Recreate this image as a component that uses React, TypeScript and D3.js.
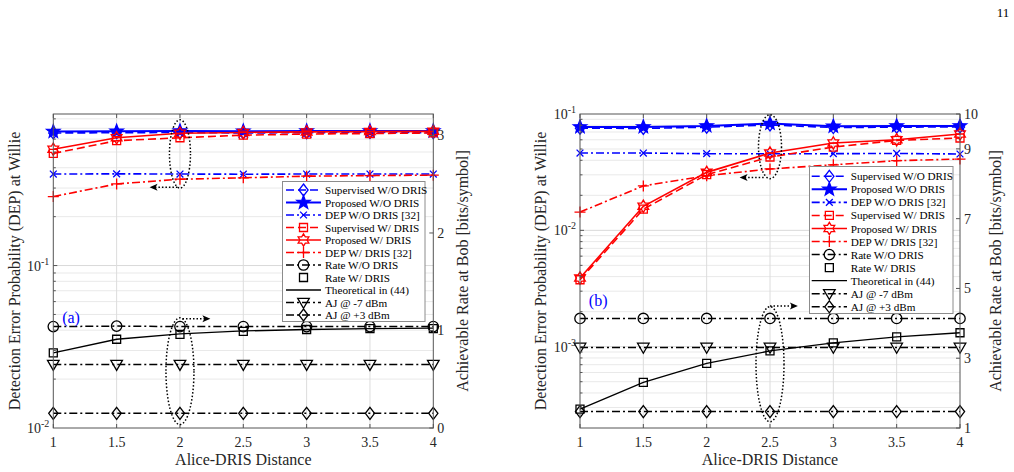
import React, { useEffect, useRef } from 'react';
import * as d3 from 'd3';

const W = 1014;
const H = 472;
const TOP = 114;
const BOTTOM = 428;
const FONT = "'Liberation Serif', 'Times New Roman', serif";

// x axis
const distances = [1, 1.5, 2, 2.5, 3, 3.5, 4];
const xTicks = [1, 1.5, 2, 2.5, 3, 3.5, 4];

// panel (a) - DEP (left, log)
const aSupervisedWO = [0.655, 0.657, 0.66, 0.655, 0.658, 0.66, 0.658];
const aProposedWO = [0.668, 0.67, 0.673, 0.672, 0.673, 0.674, 0.674];
const aDepWO = [0.366, 0.367, 0.366, 0.365, 0.366, 0.366, 0.366];
const aSupervisedW = [0.49, 0.587, 0.612, 0.635, 0.645, 0.65, 0.655];
const aProposedW = [0.52, 0.612, 0.652, 0.66, 0.665, 0.668, 0.67];
const aDepW = [0.266, 0.318, 0.34, 0.347, 0.355, 0.358, 0.36];
// panel (a) - rate (right)
const aRateWO = [1.04, 1.045, 1.04, 1.04, 1.04, 1.04, 1.04];
const aRateW = [0.77, 0.91, 0.96, 0.99, 1.01, 1.02, 1.02];
const aTheory = [0.77, 0.91, 0.965, 0.995, 1.01, 1.02, 1.025];
const aAjM7 = [0.65, 0.65, 0.65, 0.65, 0.65, 0.65, 0.65];
const aAjP3 = [0.15, 0.15, 0.15, 0.15, 0.15, 0.15, 0.15];

// panel (b) - DEP (left, log)
const bSupervisedWO = [0.0755, 0.0752, 0.077, 0.0805, 0.0765, 0.077, 0.0775];
const bProposedWO = [0.0775, 0.0775, 0.079, 0.083, 0.0785, 0.079, 0.079];
const bDepWO = [0.0462, 0.0462, 0.0456, 0.0455, 0.0456, 0.0458, 0.0453];
const bSupervisedW = [0.00376, 0.0152, 0.0301, 0.0427, 0.052, 0.0593, 0.0622];
const bProposedW = [0.00389, 0.0161, 0.0315, 0.0462, 0.0564, 0.0601, 0.0673];
const bDepW = [0.01435, 0.0241, 0.0295, 0.0337, 0.0366, 0.0397, 0.041];
// panel (b) - rate (right)
const bRateWO = [4.14, 4.14, 4.14, 4.14, 4.14, 4.14, 4.14];
const bRateW = [1.54, 2.31, 2.85, 3.21, 3.44, 3.61, 3.73];
const bTheory = [1.54, 2.31, 2.85, 3.21, 3.44, 3.61, 3.73];
const bAjM7 = [3.31, 3.31, 3.31, 3.31, 3.31, 3.31, 3.31];
const bAjP3 = [1.47, 1.47, 1.47, 1.47, 1.47, 1.47, 1.47];

const legendNames = [
  'Supervised W/O DRIS',
  'Proposed W/O DRIS',
  'DEP W/O DRIS [32]',
  'Supervised W/ DRIS',
  'Proposed W/ DRIS',
  'DEP W/ DRIS [32]',
  'Rate W/O DRIS',
  'Rate W/ DRIS',
  'Theoretical in (44)',
  'AJ @ -7 dBm',
  'AJ @ +3 dBm',
];

type Marker = 'diamond' | 'pentagram' | 'x' | 'square' | 'hexagram' | 'plus' | 'circle' | 'triangleDown' | 'none';

interface Style {
  color: string;
  dash: string | null | 'none'; // null = solid, 'none' = no line
  marker: Marker;
  width: number;
  filled?: boolean;
}

const BLUE = '#0000ff';
const RED = '#ff0000';
const BLACK = '#000000';
const DASH = '8,4';
const DASHDOT = '8,3,2,3';

// one style per legend entry
const styles: Style[] = [
  { color: BLUE, dash: DASH, marker: 'diamond', width: 1.6 },
  { color: BLUE, dash: null, marker: 'pentagram', width: 2, filled: true },
  { color: BLUE, dash: DASHDOT, marker: 'x', width: 1.6 },
  { color: RED, dash: DASH, marker: 'square', width: 1.6 },
  { color: RED, dash: null, marker: 'hexagram', width: 1.6 },
  { color: RED, dash: DASHDOT, marker: 'plus', width: 1.6 },
  { color: BLACK, dash: DASHDOT, marker: 'circle', width: 1.5 },
  { color: BLACK, dash: 'none', marker: 'square', width: 1.2 },
  { color: BLACK, dash: null, marker: 'none', width: 1.3 },
  { color: BLACK, dash: DASHDOT, marker: 'triangleDown', width: 1.5 },
  { color: BLACK, dash: DASHDOT, marker: 'diamond', width: 1.5 },
];

interface PanelSpec {
  x0: number;
  x1: number;
  leftDomain: [number, number];
  rightDomain: [number, number];
  rightTicks: number[];
  series: { values: number[]; axis: 'left' | 'right'; style: number }[];
  legend: { x: number; y: number; w: number; h: number; row0: number; gap: number; lineX0: number; lineX1: number; textX: number };
  tag: string;
  tagAt: [number, number];
  ellipses: { x: number; from: number; to: number; axis: 'left' | 'right'; rx: number }[];
  arrows: { from: number; to: number; v: number; axis: 'left' | 'right' }[];
  yLabelX: number;
  rLabelX: number;
}

const panels: PanelSpec[] = [
  {
    x0: 53.3,
    x1: 433.3,
    leftDomain: [0.01, 0.857],
    rightDomain: [0, 3.22],
    rightTicks: [0, 1, 2, 3],
    series: [
      { values: aSupervisedWO, axis: 'left', style: 0 },
      { values: aProposedWO, axis: 'left', style: 1 },
      { values: aDepWO, axis: 'left', style: 2 },
      { values: aSupervisedW, axis: 'left', style: 3 },
      { values: aProposedW, axis: 'left', style: 4 },
      { values: aDepW, axis: 'left', style: 5 },
      { values: aRateWO, axis: 'right', style: 6 },
      { values: aTheory, axis: 'right', style: 8 },
      { values: aRateW, axis: 'right', style: 7 },
      { values: aAjM7, axis: 'right', style: 9 },
      { values: aAjP3, axis: 'right', style: 10 },
    ],
    legend: { x: 282.5, y: 181.5, w: 142.5, h: 140, row0: 190, gap: 12.5, lineX0: 286, lineX1: 321, textX: 325 },
    tag: '(a)',
    tagAt: [1.07, 1.08],
    ellipses: [
      { x: 2, from: 0.3, to: 0.79, axis: 'left', rx: 10.5 },
      { x: 2, from: 0.035, to: 1.13, axis: 'right', rx: 14 },
    ],
    arrows: [
      { from: 1.98, to: 1.76, v: 0.303, axis: 'left' },
      { from: 2.02, to: 2.24, v: 1.12, axis: 'right' },
    ],
    yLabelX: 14,
    rLabelX: 462,
  },
  {
    x0: 580,
    x1: 960,
    leftDomain: [0.0002, 0.1],
    rightDomain: [1, 10],
    rightTicks: [1, 3, 5, 7, 9, 10],
    series: [
      { values: bSupervisedWO, axis: 'left', style: 0 },
      { values: bProposedWO, axis: 'left', style: 1 },
      { values: bDepWO, axis: 'left', style: 2 },
      { values: bSupervisedW, axis: 'left', style: 3 },
      { values: bProposedW, axis: 'left', style: 4 },
      { values: bDepW, axis: 'left', style: 5 },
      { values: bRateWO, axis: 'right', style: 6 },
      { values: bTheory, axis: 'right', style: 8 },
      { values: bRateW, axis: 'right', style: 7 },
      { values: bAjM7, axis: 'right', style: 9 },
      { values: bAjP3, axis: 'right', style: 10 },
    ],
    legend: { x: 809.5, y: 166.5, w: 143.5, h: 147, row0: 176.3, gap: 13.05, lineX0: 811.7, lineX1: 847, textX: 850.7 },
    tag: '(b)',
    tagAt: [1.07, 4.5],
    ellipses: [
      { x: 2.5, from: 0.0278, to: 0.0986, axis: 'left', rx: 11.5 },
      { x: 2.5, from: 1.18, to: 4.48, axis: 'right', rx: 14 },
    ],
    arrows: [
      { from: 2.45, to: 2.26, v: 0.0285, axis: 'left' },
      { from: 2.5, to: 2.72, v: 4.5, axis: 'right' },
    ],
    yLabelX: 540,
    rLabelX: 995,
  },
];

function starPath(n: number, outer: number, inner: number): string {
  const pts: [number, number][] = [];
  for (let i = 0; i < n * 2; i++) {
    const r = i % 2 === 0 ? outer : inner;
    const a = -Math.PI / 2 + (i * Math.PI) / n;
    pts.push([r * Math.cos(a), r * Math.sin(a)]);
  }
  return 'M' + pts.map(p => `${p[0].toFixed(2)},${p[1].toFixed(2)}`).join('L') + 'Z';
}

function markerPath(m: Marker): string {
  switch (m) {
    case 'diamond': return 'M0,-6L4.6,0L0,6L-4.6,0Z';
    case 'square': return 'M-4,-4H4V4H-4Z';
    case 'circle': return 'M5.2,0A5.2,5.2 0 1,1 -5.2,0A5.2,5.2 0 1,1 5.2,0Z';
    case 'triangleDown': return 'M-5.8,-4.2L5.8,-4.2L0,5.8Z';
    case 'x': return 'M-3.4,-3.4L3.4,3.4M-3.4,3.4L3.4,-3.4';
    case 'plus': return 'M-5.5,0H5.5M0,-5.5V5.5';
    case 'pentagram': return starPath(5, 7, 2.9);
    case 'hexagram': return starPath(6, 6.2, 3.6);
    default: return '';
  }
}

function drawMarker(g: d3.Selection<SVGGElement, unknown, null, undefined>, s: Style, cx: number, cy: number) {
  if (s.marker === 'none') return;
  g.append('path')
    .attr('d', markerPath(s.marker))
    .attr('transform', `translate(${cx},${cy})`)
    .attr('fill', s.filled ? s.color : 'none')
    .attr('stroke', s.color)
    .attr('stroke-width', 1.3);
}

function drawPanel(svg: d3.Selection<SVGSVGElement, unknown, null, undefined>, p: PanelSpec) {
  const x = d3.scaleLinear().domain([1, 4]).range([p.x0, p.x1]);
  const yL = d3.scaleLog().domain(p.leftDomain).range([BOTTOM, TOP]);
  const yR = d3.scaleLinear().domain(p.rightDomain).range([BOTTOM, TOP]);
  const yOf = (axis: 'left' | 'right') => (axis === 'left' ? yL : yR);

  const g = svg.append('g');

  // log grid (left axis)
  const [lo, hi] = p.leftDomain;
  const logVals: { v: number; major: boolean }[] = [];
  for (let e = Math.floor(Math.log10(lo)); e <= Math.ceil(Math.log10(hi)); e++) {
    for (let m = 1; m < 10; m++) {
      const v = m * Math.pow(10, e);
      if (v > lo * 1.001 && v < hi * 0.999) logVals.push({ v, major: m === 1 });
    }
  }
  g.selectAll('.hgrid')
    .data(logVals)
    .enter().append('line')
    .attr('x1', p.x0).attr('x2', p.x1)
    .attr('y1', d => yL(d.v)).attr('y2', d => yL(d.v))
    .attr('stroke', d => (d.major ? '#d9d9d9' : '#e9e9e9'))
    .attr('stroke-width', 1);
  g.selectAll('.vgrid')
    .data(xTicks.slice(1, -1))
    .enter().append('line')
    .attr('x1', d => x(d)).attr('x2', d => x(d))
    .attr('y1', TOP).attr('y2', BOTTOM)
    .attr('stroke', '#dcdcdc')
    .attr('stroke-width', 1);

  // series lines
  p.series.forEach(sr => {
    const s = styles[sr.style];
    const y = yOf(sr.axis);
    if (s.dash !== 'none') {
      const line = d3.line<number>().x((_, i) => x(distances[i])).y(v => y(v));
      g.append('path')
        .attr('d', line(sr.values))
        .attr('fill', 'none')
        .attr('stroke', s.color)
        .attr('stroke-width', s.width)
        .attr('stroke-dasharray', s.dash ?? null);
    }
    sr.values.forEach((v, i) => drawMarker(g, s, x(distances[i]), y(v)));
  });

  // axes box
  g.append('rect')
    .attr('x', p.x0).attr('y', TOP)
    .attr('width', p.x1 - p.x0).attr('height', BOTTOM - TOP)
    .attr('fill', 'none').attr('stroke', '#555').attr('stroke-width', 1);

  // x ticks
  xTicks.forEach(t => {
    g.append('line').attr('x1', x(t)).attr('x2', x(t)).attr('y1', BOTTOM).attr('y2', BOTTOM - 4).attr('stroke', '#555');
    g.append('line').attr('x1', x(t)).attr('x2', x(t)).attr('y1', TOP).attr('y2', TOP + 4).attr('stroke', '#555');
    g.append('text')
      .attr('x', x(t)).attr('y', 447)
      .attr('text-anchor', 'middle')
      .style('font-family', FONT).style('font-size', '14px').attr('fill', '#262626')
      .text(String(t));
  });

  // left ticks (log)
  logVals.forEach(d => {
    const len = d.major ? 4 : 2.5;
    g.append('line').attr('x1', p.x0).attr('x2', p.x0 + len).attr('y1', yL(d.v)).attr('y2', yL(d.v)).attr('stroke', '#555');
  });
  const decades: number[] = [];
  for (let e = Math.ceil(Math.log10(lo) - 1e-9); e <= Math.floor(Math.log10(hi) + 1e-9); e++) decades.push(e);
  decades.forEach(e => {
    const t = g.append('text')
      .attr('x', p.x0 - 4).attr('y', yL(Math.pow(10, e)) + 5)
      .attr('text-anchor', 'end')
      .style('font-family', FONT).style('font-size', '14px').attr('fill', '#262626');
    t.append('tspan').text('10');
    t.append('tspan').attr('dy', -6).style('font-size', '10px').text(String(e));
  });

  // right ticks
  p.rightTicks.forEach(t => {
    g.append('line').attr('x1', p.x1).attr('x2', p.x1 - 4).attr('y1', yR(t)).attr('y2', yR(t)).attr('stroke', '#555');
    g.append('text')
      .attr('x', p.x1 + 4).attr('y', yR(t) + 5)
      .style('font-family', FONT).style('font-size', '14px').attr('fill', '#262626')
      .text(String(t));
  });

  // axis titles
  g.append('text')
    .attr('transform', `translate(${p.yLabelX},${(TOP + BOTTOM) / 2}) rotate(-90)`)
    .attr('text-anchor', 'middle').attr('dy', '0.35em')
    .style('font-family', FONT).style('font-size', '16px').attr('fill', '#262626')
    .text('Detection Error Probability (DEP) at Willie');
  g.append('text')
    .attr('transform', `translate(${p.rLabelX},${(TOP + BOTTOM) / 2}) rotate(-90)`)
    .attr('text-anchor', 'middle').attr('dy', '0.35em')
    .style('font-family', FONT).style('font-size', '16px').attr('fill', '#262626')
    .text('Achievable Rate at Bob [bits/symbol]');
  g.append('text')
    .attr('x', (p.x0 + p.x1) / 2).attr('y', 465)
    .attr('text-anchor', 'middle')
    .style('font-family', FONT).style('font-size', '16px').attr('fill', '#262626')
    .text('Alice-DRIS Distance');

  // panel tag
  g.append('text')
    .attr('x', x(p.tagAt[0])).attr('y', yR(p.tagAt[1]))
    .style('font-family', FONT).style('font-size', '16px').attr('fill', BLUE)
    .text(p.tag);

  // dotted annotations
  p.ellipses.forEach(e => {
    const y = yOf(e.axis);
    const ya = y(e.from);
    const yb = y(e.to);
    g.append('ellipse')
      .attr('cx', x(e.x)).attr('cy', (ya + yb) / 2)
      .attr('rx', e.rx).attr('ry', Math.abs(ya - yb) / 2)
      .attr('fill', 'none').attr('stroke', BLACK)
      .attr('stroke-width', 1.5).attr('stroke-dasharray', '1.5,2');
  });
  p.arrows.forEach(a => {
    const yy = yOf(a.axis)(a.v);
    const xa = x(a.from);
    const xb = x(a.to);
    const dir = xb > xa ? 1 : -1;
    g.append('line')
      .attr('x1', xa).attr('x2', xb - dir * 5)
      .attr('y1', yy).attr('y2', yy)
      .attr('stroke', BLACK).attr('stroke-width', 1.5).attr('stroke-dasharray', '1.5,2');
    g.append('path')
      .attr('d', `M${xb},${yy}L${xb - dir * 8},${yy - 3.5}L${xb - dir * 6},${yy}L${xb - dir * 8},${yy + 3.5}Z`)
      .attr('fill', BLACK);
  });

  // legend
  const L = p.legend;
  const lg = svg.append('g');
  lg.append('rect')
    .attr('x', L.x).attr('y', L.y).attr('width', L.w).attr('height', L.h)
    .attr('fill', '#fff').attr('stroke', '#8c8c8c').attr('stroke-width', 1);
  legendNames.forEach((name, i) => {
    const s = styles[i];
    const cy = L.row0 + i * L.gap;
    if (s.dash !== 'none') {
      lg.append('line')
        .attr('x1', L.lineX0).attr('x2', L.lineX1).attr('y1', cy).attr('y2', cy)
        .attr('stroke', s.color).attr('stroke-width', s.width)
        .attr('stroke-dasharray', s.dash ?? null);
    }
    drawMarker(lg as any, s, (L.lineX0 + L.lineX1) / 2, cy);
    lg.append('text')
      .attr('x', L.textX).attr('y', cy + 4)
      .style('font-family', FONT).style('font-size', '11.2px').attr('fill', BLACK)
      .text(name);
  });
}

export default function App() {
  const svgRef = useRef<SVGSVGElement>(null);

  useEffect(() => {
    if (!svgRef.current) return;
    const svg = d3.select(svgRef.current);
    svg.selectAll('*').remove();
    svg.append('rect').attr('width', W).attr('height', H).attr('fill', '#fff');
    panels.forEach(p => drawPanel(svg, p));
    // page number
    svg.append('text')
      .attr('x', 1003).attr('y', 17)
      .attr('text-anchor', 'middle')
      .style('font-family', FONT).style('font-size', '13px').attr('fill', BLACK)
      .text('11');
  }, []);

  return (
    <svg
      ref={svgRef}
      width={W}
      height={H}
      style={{ position: 'absolute', left: 0, top: 0, background: '#fff' }}
    />
  );
}
